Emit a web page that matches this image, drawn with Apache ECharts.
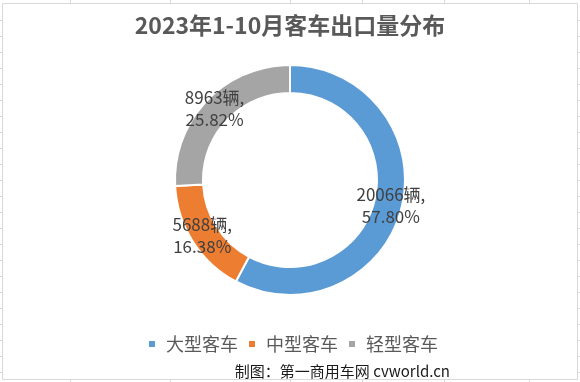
<!DOCTYPE html>
<html>
<head>
<meta charset="utf-8">
<script src="https://cdn.jsdelivr.net/npm/echarts@6/dist/echarts.min.js"></script>
<style>
html,body{margin:0;padding:0;background:#fff;}
#chart{width:580px;height:382px;}
</style>
</head>
<body>
<div id="chart"></div>
<script>
const categories = ['大型客车', '中型客车', '轻型客车'];
const volumes = [20066, 5688, 8963];
const shares = ['57.80%', '16.38%', '25.82%'];
const colors = ['#5b9bd5', '#ed7d31', '#a5a5a5'];
const titleText = '2023年1-10月客车出口量分布';
const creditText = '制图：第一商用车网 cvworld.cn';

const gridColor = '#d9d9d9';
const graphics = [];
// Excel sheet gridlines outside the chart area
const colX = [70.5, 170.5, 290.5, 362.5, 444.5, 529.5];
colX.forEach(x => {
  graphics.push({type:'line', shape:{x1:x,y1:0,x2:x,y2:3}, style:{stroke:gridColor,lineWidth:1}, silent:true});
  graphics.push({type:'line', shape:{x1:x,y1:380,x2:x,y2:382}, style:{stroke:gridColor,lineWidth:1}, silent:true});
});
for (let y = 20.5; y < 380; y += 16) {
  graphics.push({type:'line', shape:{x1:0,y1:y,x2:2,y2:y}, style:{stroke:gridColor,lineWidth:1}, silent:true});
  graphics.push({type:'line', shape:{x1:578,y1:y,x2:580,y2:y}, style:{stroke:gridColor,lineWidth:1}, silent:true});
}
// chart area border
graphics.push({type:'rect', shape:{x:2.5,y:3.5,width:575,height:376}, style:{fill:'#fff',stroke:gridColor,lineWidth:1}, silent:true, z:-10});
// credit
graphics.push({type:'text', x:450, y:371, style:{text:creditText, fill:'#1a1a1a', font:'15px "Noto Sans CJK SC", sans-serif', textAlign:'right', textVerticalAlign:'middle'}, silent:true});

const chart = echarts.init(document.getElementById('chart'), null, {renderer:'canvas'});
chart.setOption({
  animation:false,
  backgroundColor:'#fff',
  color: colors,
  title:{
    text:titleText,
    left:'center',
    top:9,
    textStyle:{fontSize:23, fontWeight:'bold', color:'#595959', fontFamily:'"Noto Sans CJK SC", sans-serif'}
  },
  legend:{
    data:categories,
    left:142,
    top:330,
    icon:'rect',
    itemWidth:8,
    itemHeight:8,
    itemGap:9,
    textStyle:{fontSize:18, color:'#595959', fontFamily:'"Noto Sans CJK SC", sans-serif', padding:[0,0,0,5]}
  },
  graphic: graphics,
  series:[{
    type:'pie',
    center:[290,180],
    radius:[87,115],
    startAngle:90,
    clockwise:true,
    avoidLabelOverlap:false,
    itemStyle:{borderColor:'#fff', borderWidth:2},
    label:{
      show:true,
      position:'inside',
      color:'#404040',
      fontSize:17,
      lineHeight:22,
      fontFamily:'"Noto Sans CJK SC", sans-serif',
      formatter: p => volumes[p.dataIndex] + '辆,\n' + shares[p.dataIndex]
    },
    labelLine:{show:false},
    emphasis:{disabled:true},
    data: categories.map((c,i) => ({name:c, value:volumes[i]}))
  }]
});
</script>
</body>
</html>
